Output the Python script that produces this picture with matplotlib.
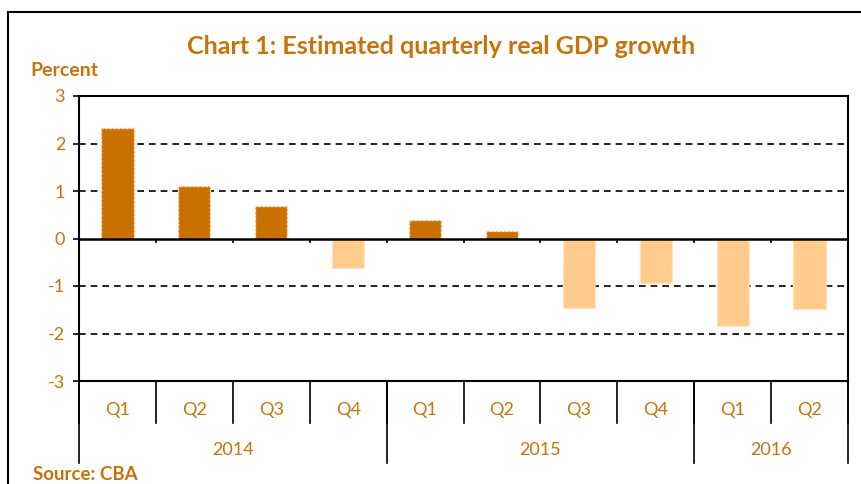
import matplotlib
matplotlib.use('Agg')
import matplotlib.pyplot as plt
import matplotlib.transforms as mtransforms
from matplotlib.lines import Line2D
import numpy as np

# 数据
quarters = ['Q1', 'Q2', 'Q3', 'Q4', 'Q1', 'Q2', 'Q3', 'Q4', 'Q1', 'Q2']
years = ['2014', '2015', '2016']
year_counts = [4, 4, 2]
growth = [2.33, 1.10, 0.68, -0.62, 0.39, 0.16, -1.46, -0.94, -1.84, -1.48]

txt_color = '#C8730A'
pos_color = '#C87000'
neg_color = '#FFCC8E'

plt.rcParams['font.family'] = ['Lato', 'DejaVu Sans']

W, H = 862, 484
fig = plt.figure(figsize=(W / 100, H / 100), dpi=100)

# 外框
fig.add_artist(Line2D([8 / W, 8 / W], [0, 1 - 12 / H], color='black', lw=1.5, transform=fig.transFigure))
fig.add_artist(Line2D([8 / W, 1], [1 - 12 / H, 1 - 12 / H], color='black', lw=1.5, transform=fig.transFigure))

left, right, top, bottom = 79, 848, 96, 381
ax = fig.add_axes([left / W, 1 - bottom / H, (right - left) / W, (bottom - top) / H])

x = np.arange(len(growth))
colors = [pos_color if v >= 0 else neg_color for v in growth]
ax.bar(x, growth, width=0.42, color=colors, edgecolor='#FFE3C2', linestyle=(0, (2, 1)), linewidth=1, zorder=3)

ax.set_xlim(-0.5, len(growth) - 0.5)
ax.set_ylim(-3, 3)
ax.set_yticks(range(-3, 4))
ax.set_yticklabels([str(v) for v in range(-3, 4)], color=txt_color, fontsize=13)
ax.tick_params(axis='y', length=4, width=1.2, pad=6)
ax.set_xticks([])

for v in [-2, -1, 1, 2, 3]:
    ax.axhline(v, color='black', lw=1.2, ls=(0, (4, 3)), zorder=2)
ax.axhline(0, color='black', lw=1.8, zorder=4)

# 零线上的刻度
bounds = np.arange(len(growth) + 1) - 0.5
ax.vlines(bounds[1:-1], 0, -0.1, color='black', lw=1.2, zorder=4)

for s in ax.spines.values():
    s.set_linewidth(1.5)

# 分类轴标签
trans = mtransforms.blended_transform_factory(ax.transData, ax.transAxes)
for b in bounds:
    ax.plot([b, b], [0, -0.147], color='black', lw=1.2, transform=trans, clip_on=False)
year_edges = np.concatenate([[0], np.cumsum(year_counts)]) - 0.5
for b in year_edges:
    ax.plot([b, b], [0, -0.288], color='black', lw=1.2, transform=trans, clip_on=False)
for i, q in enumerate(quarters):
    ax.text(i, -0.10, q, color=txt_color, fontsize=13, ha='center', va='center', transform=trans)
for i, yr in enumerate(years):
    ax.text((year_edges[i] + year_edges[i + 1]) / 2, -0.242, yr, color=txt_color, fontsize=13,
            ha='center', va='center', transform=trans)

fig.text(441 / W, 1 - 47 / H, 'Chart 1: Estimated quarterly real GDP growth', color=txt_color,
         fontsize=18, fontweight='bold', ha='center', va='center')
fig.text(30 / W, 1 - 71 / H, 'Percent', color=txt_color, fontsize=14, fontweight='bold', ha='left', va='center')
fig.text(33 / W, 1 - 475 / H, 'Source: CBA', color=txt_color, fontsize=13.5, fontweight='bold', ha='left', va='center')

fig.savefig('out.png', dpi=100)
